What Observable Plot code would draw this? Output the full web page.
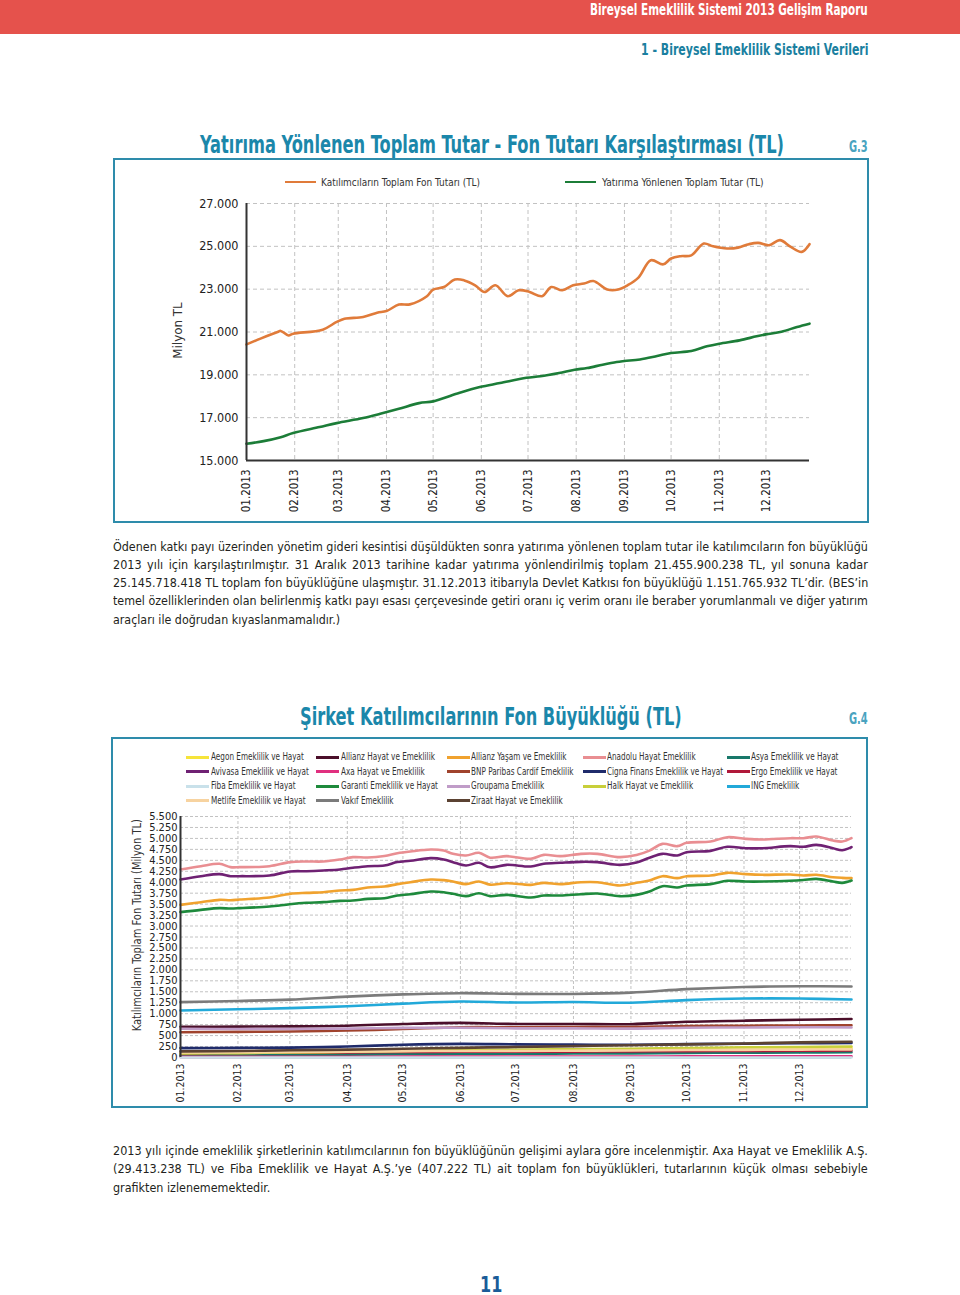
<!DOCTYPE html>
<html><head><meta charset="utf-8">
<script src="https://cdn.jsdelivr.net/npm/d3@7"></script>
<script src="https://cdn.jsdelivr.net/npm/@observablehq/plot@0.6"></script>
<style>
body{margin:0;background:#fff;}
#page{position:relative;width:960px;height:1295px;overflow:hidden;background:#fff;}
.t{position:absolute;white-space:nowrap;display:inline-block;}
.frame{position:absolute;border:2px solid #2e8cab;box-sizing:border-box;}
.sw{position:absolute;height:3px;}
.chart{position:absolute;}
</style></head><body><div id="page"></div>
<script>
// ---------------- DATA ----------------
// Chart G.3 (days since 1 Jan 2013, values in million TL)
const fonDays = [0, 9, 20, 22, 27, 30, 49, 58, 63, 75, 84, 90, 98, 105, 116, 120, 127, 134, 140, 147, 153, 160, 168, 175, 182, 190, 196, 203, 210, 217, 223, 232, 239, 245, 252, 260, 268, 273, 279, 286, 294, 300, 309, 316, 323, 329, 336, 343, 350, 357, 362];
const fonValues = [20420, 20690, 21000, 21050, 20840, 20920, 21110, 21470, 21620, 21700, 21900, 21980, 22280, 22290, 22670, 22980, 23100, 23450, 23410, 23180, 22870, 23180, 22670, 22950, 22870, 22670, 23100, 22950, 23180, 23260, 23380, 22980, 22980, 23180, 23540, 24350, 24160, 24430, 24540, 24580, 25130, 25000, 24900, 24940, 25100, 25160, 25050, 25290, 24970, 24740, 25100];
const yatDays = [0, 11, 22, 30, 47, 58, 75, 86, 98, 111, 120, 135, 150, 163, 180, 189, 201, 211, 219, 229, 238, 243, 253, 264, 273, 286, 296, 304, 317, 328, 334, 344, 354, 362];
const yatValues = [15780, 15905, 16090, 16280, 16560, 16745, 16980, 17180, 17415, 17680, 17760, 18115, 18430, 18615, 18860, 18930, 19085, 19240, 19315, 19475, 19600, 19645, 19720, 19880, 20020, 20110, 20330, 20455, 20610, 20800, 20890, 21015, 21235, 21390];
const series1Names = ["Katılımcıların Toplam Fon Tutarı (TL)", "Yatırıma Yönlenen Toplam Tutar (TL)"];
const series1Colors = ["#e07b3a", "#1c7d38"];

// Chart G.4
const companies = ["Aegon Emeklilik ve Hayat","Allianz Hayat ve Emeklilik","Allianz Yaşam ve Emeklilik","Anadolu Hayat Emeklilik","Asya Emeklilik ve Hayat",
 "Avivasa Emeklilik ve Hayat","Axa Hayat ve Emeklilik","BNP Paribas Cardif Emeklilik","Cigna Finans Emeklilik ve Hayat","Ergo Emeklilik ve Hayat",
 "Fiba Emeklilik ve Hayat","Garanti Emeklilik ve Hayat","Groupama Emeklilik","Halk Hayat ve Emeklilik","ING Emeklilik",
 "Metlife Emeklilik ve Hayat","Vakıf Emeklilik","Ziraat Hayat ve Emeklilik"];
const companyColors = ["#f6e43a","#4b0f2a","#f0a22e","#e98e92","#18786a",
 "#6f2173","#e0307f","#a0432d","#1f2b6b","#b0183a",
 "#c9e1ea","#1e8a3c","#c09cc8","#c8cf3a","#22a9d9",
 "#f7d3a0","#7b7b7b","#5b4232"];
const detailDays = [0, 11, 21, 27, 32, 48, 59, 68, 77, 86, 93, 101, 110, 117, 124, 135, 142, 147, 154, 161, 167, 176, 189, 196, 205, 216, 225, 237, 246, 253, 260, 268, 273, 286, 295, 305, 314, 329, 336, 343, 352, 357, 362];
const anadolu = [4290, 4366, 4420, 4344, 4344, 4366, 4458, 4473, 4473, 4519, 4572, 4565, 4600, 4660, 4700, 4747, 4724, 4648, 4610, 4671, 4560, 4595, 4534, 4625, 4595, 4648, 4648, 4572, 4620, 4720, 4876, 4823, 4899, 4929, 5028, 4990, 4975, 5005, 5005, 5044, 4952, 4929, 5005];
const avivasa = [4062, 4138, 4184, 4138, 4138, 4153, 4245, 4252, 4268, 4290, 4330, 4366, 4380, 4460, 4490, 4549, 4519, 4458, 4382, 4443, 4340, 4397, 4359, 4420, 4443, 4465, 4458, 4397, 4450, 4560, 4648, 4610, 4686, 4716, 4808, 4777, 4777, 4823, 4808, 4853, 4777, 4731, 4800];
const allianzYasam = [3484, 3545, 3598, 3590, 3606, 3651, 3735, 3758, 3773, 3811, 3826, 3880, 3902, 3956, 4001, 4062, 4047, 4016, 3956, 4016, 3945, 3978, 3940, 3986, 3956, 4001, 4001, 3925, 3986, 4039, 4138, 4093, 4138, 4153, 4214, 4184, 4169, 4176, 4153, 4169, 4115, 4100, 4093];
const garanti = [3317, 3370, 3408, 3400, 3408, 3446, 3499, 3530, 3545, 3575, 3583, 3621, 3636, 3697, 3727, 3788, 3773, 3735, 3682, 3750, 3682, 3712, 3651, 3697, 3697, 3727, 3743, 3682, 3712, 3788, 3910, 3880, 3925, 3956, 4032, 4016, 4016, 4032, 4050, 4077, 4016, 3986, 4039];
const monthDays = [0, 31, 59, 90, 120, 151, 181, 212, 243, 273, 304, 334, 362];
const aegon = [75, 80, 85, 95, 105, 115, 120, 130, 140, 155, 170, 185, 210];
const allianzHayat = [700, 705, 710, 725, 765, 790, 765, 765, 760, 815, 840, 860, 880];
const asya = [45, 50, 55, 65, 75, 80, 85, 90, 95, 105, 110, 115, 120];
const axa = [14, 15, 16, 18, 19, 20, 21, 22, 23, 25, 26, 28, 29];
const bnp = [577, 585, 595, 615, 650, 690, 690, 695, 695, 715, 725, 730, 737];
const cigna = [215, 220, 225, 250, 290, 310, 300, 295, 290, 305, 315, 325, 330];
const ergo = [100, 105, 110, 115, 125, 130, 130, 135, 140, 145, 150, 155, 160];
const fiba = [0.3, 0.3, 0.3, 0.3, 0.3, 0.3, 0.4, 0.4, 0.4, 0.4, 0.4, 0.4, 0.4];
const groupama = [655, 650, 650, 660, 675, 680, 665, 665, 660, 680, 685, 690, 685];
const halk = [90, 100, 115, 130, 150, 165, 175, 190, 200, 215, 230, 240, 250];
const ing = [1073, 1100, 1126, 1170, 1230, 1278, 1255, 1265, 1250, 1310, 1345, 1345, 1324];
const metlife = [115, 120, 125, 135, 145, 150, 150, 155, 160, 170, 175, 180, 185];
const vakif = [1263, 1290, 1320, 1390, 1440, 1468, 1453, 1450, 1480, 1560, 1610, 1625, 1620];
const ziraat = [140, 150, 165, 180, 200, 220, 240, 260, 280, 300, 320, 345, 360];
const companyValues = [aegon, allianzHayat, allianzYasam, anadolu, asya, avivasa, axa, bnp, cigna, ergo, fiba, garanti, groupama, halk, ing, metlife, vakif, ziraat];
const companyDays = companyValues.map(v => v.length === detailDays.length ? detailDays : monthDays);

const yTicks1 = [15000, 17000, 19000, 21000, 23000, 25000, 27000];
const yTicks2 = d3.range(0, 5501, 250);

const para1 = [
 "Ödenen katkı payı üzerinden yönetim gideri kesintisi düşüldükten sonra yatırıma yönlenen toplam tutar ile katılımcıların fon büyüklüğü",
 "2013 yılı için karşılaştırılmıştır. 31 Aralık 2013 tarihine kadar yatırıma yönlendirilmiş toplam 21.455.900.238 TL, yıl sonuna kadar",
 "25.145.718.418 TL toplam fon büyüklüğüne ulaşmıştır. 31.12.2013 itibarıyla Devlet Katkısı fon büyüklüğü 1.151.765.932 TL’dir. (BES’in",
 "temel özelliklerinden olan belirlenmiş katkı payı esası çerçevesinde getiri oranı iç verim oranı ile beraber yorumlanmalı ve diğer yatırım",
 "araçları ile doğrudan kıyaslanmamalıdır.)"];
const para2 = [
 "2013 yılı içinde emeklilik şirketlerinin katılımcılarının fon büyüklüğünün gelişimi aylara göre incelenmiştir. Axa Hayat ve Emeklilik A.Ş.",
 "(29.413.238 TL) ve Fiba Emeklilik ve Hayat A.Ş.’ye (407.222 TL) ait toplam fon büyüklükleri, tutarlarının küçük olması sebebiyle",
 "grafikten izlenememektedir."];

// ---------------- LAYOUT HELPERS ----------------
const page = document.getElementById("page");
const BODY = "'DejaVu Sans Condensed','DejaVu Sans',sans-serif";
const DISPLAY = "'Liberation Sans Narrow','DejaVu Sans Condensed',sans-serif";
function box(cls, l, t, w, h, bg) {
  const d = document.createElement("div"); d.className = cls;
  Object.assign(d.style, {left: l + "px", top: t + "px", width: w + "px", height: h + "px"});
  if (bg) d.style.background = bg;
  page.appendChild(d); return d;
}
function addText(str, o) {
  const el = document.createElement("div");
  el.className = "t"; el.textContent = str;
  Object.assign(el.style, {fontFamily: o.family || BODY, fontSize: o.size + "px", lineHeight: o.size + "px",
    fontWeight: o.weight || "normal", color: o.color || "#231f20"});
  page.appendChild(el);
  const w = el.offsetWidth, h = el.offsetHeight;
  let s = o.scale != null ? o.scale : (o.w ? o.w / w : 1);
  if (o.justify) {
    const n = (str.match(/ /g) || []).length;
    if (w <= o.w) { s = 1; el.style.wordSpacing = ((o.w - w) / n) + "px"; }
    else s = o.w / w;
  }
  const top = o.cy - h / 2;
  let left, origin;
  if (o.rot != null || o.anchor === "middle") { left = o.cx - w / 2; origin = "50% 50%"; }
  else if (o.anchor === "end") { left = o.x - w; origin = "100% 50%"; }
  else { left = o.x; origin = "0 50%"; }
  el.style.left = left + "px"; el.style.top = top + "px";
  el.style.transformOrigin = origin;
  el.style.transform = (o.rot != null ? `rotate(${o.rot}deg) ` : "") + `scaleX(${s})`;
  return {el, w, s};
}

// ---------------- HEADER ----------------
box("", 0, 0, 960, 34, "#e5524c").style.position = "absolute";
addText("Bireysel Emeklilik Sistemi 2013 Gelişim Raporu", {x: 868, anchor: "end", cy: 10, size: 15, weight: "bold", color: "#fff", family: DISPLAY, w: 278});
addText("1 - Bireysel Emeklilik Sistemi Verileri", {x: 868, anchor: "end", cy: 50, size: 15, weight: "bold", color: "#1a7fa0", family: DISPLAY, w: 227});

// ---------------- CHART G.3 ----------------
addText("Yatırıma Yönlenen Toplam Tutar - Fon Tutarı Karşılaştırması (TL)", {x: 200, cy: 144, size: 25, weight: "bold", color: "#1b87aa", family: DISPLAY, w: 584});
addText("G.3", {x: 849, cy: 147, size: 15, weight: "bold", color: "#4aa3bf", family: DISPLAY, w: 19});
box("frame", 113, 158, 756, 365);

const start = new Date(Date.UTC(2013, 0, 1));
const day = d => d3.utcDay.offset(start, d);
const end = day(362);
const months = d3.utcMonth.range(start, day(340));
const fmt = d3.formatLocale({decimal: ",", thousands: ".", grouping: [3], currency: ["", " TL"]}).format(",");

// legend G.3
const leg1 = [{sx: 285, tx: 321, w: 159}, {sx: 565, tx: 602, w: 162}];
series1Names.forEach((n, i) => {
  box("sw", leg1[i].sx, 181, 31, 2, series1Colors[i]);
  addText(n, {x: leg1[i].tx, cy: 182, size: 11, color: "#333", w: leg1[i].w});
});
addText("Milyon TL", {cx: 177, cy: 330, rot: -90, size: 13, color: "#333", w: 56});

const fonData = fonDays.map((d, i) => ({date: day(d), v: fonValues[i], s: series1Names[0]}));
const yatData = yatDays.map((d, i) => ({date: day(d), v: yatValues[i], s: series1Names[1]}));
const grid = {stroke: "#c2c2c2", strokeDasharray: "4,3", strokeWidth: 1, strokeOpacity: 1};

const c1 = Plot.plot({
  width: 750, height: 330, marginLeft: 133, marginRight: 54, marginTop: 13, marginBottom: 60,
  style: {fontFamily: BODY, fontSize: "12.5px", color: "#222", background: "transparent", overflow: "visible"},
  x: {type: "utc", domain: [start, end], ticks: months, tickFormat: d3.utcFormat("%m.%Y"), tickRotate: -90, tickSize: 0, tickPadding: 9, label: null},
  y: {domain: [15000, 27000], ticks: yTicks1, tickFormat: fmt, tickSize: 0, tickPadding: 8, label: null},
  marks: [
    Plot.ruleX(months.slice(1), grid),
    Plot.ruleY(yTicks1.slice(1), grid),
    Plot.line(fonData, {x: "date", y: "v", stroke: series1Colors[0], strokeWidth: 2.6, curve: "catmull-rom"}),
    Plot.line(yatData, {x: "date", y: "v", stroke: series1Colors[1], strokeWidth: 2.6, curve: "catmull-rom"}),
    Plot.ruleX([start], {stroke: "#333", strokeWidth: 2}),
    Plot.ruleY([15000], {stroke: "#333", strokeWidth: 2})
  ]
});
c1.classList.add("chart"); Object.assign(c1.style, {left: "113px", top: "190px"});
page.appendChild(c1);
d3.select(c1).selectAll('[aria-label^="x-axis"] text').attr("font-size", 11.5);

// paragraph 1
para1.forEach((line, i) => {
  const last = i === para1.length - 1;
  addText(line, {x: 113, cy: 547 + i * 18.3, size: 12.5, color: "#231f20", w: last ? 227 : 755, justify: !last});
});

// ---------------- CHART G.4 ----------------
addText("Şirket Katılımcılarının Fon Büyüklüğü (TL)", {x: 300, cy: 716, size: 25, weight: "bold", color: "#1b87aa", family: DISPLAY, w: 382});
addText("G.4", {x: 849, cy: 719, size: 15, weight: "bold", color: "#4aa3bf", family: DISPLAY, w: 19});
box("frame", 111, 737, 757, 371);

const colSw = [186, 316, 447, 583, 727], colTx = [211, 341, 471, 607, 751], rowY = [757, 771.5, 786, 800.5];
let legScale = null;
companies.forEach((n, i) => {
  const c = i % 5, r = Math.floor(i / 5);
  box("sw", colSw[c], rowY[r] - 1.5, 23, 3, companyColors[i]);
  const res = addText(n, {x: colTx[c], cy: rowY[r], size: 10, color: "#333", w: i === 0 ? 93 : null, scale: legScale});
  if (i === 0) legScale = res.s;
});
addText("Katılımcıların Toplam Fon Tutarı (Milyon TL)", {cx: 137, cy: 925, rot: -90, size: 12.5, color: "#333", w: 212});

const data2 = companies.flatMap((n, i) => companyDays[i].map((d, j) => ({date: day(d), v: companyValues[i][j], s: n})));

const c2 = Plot.plot({
  width: 750, height: 300, marginLeft: 67, marginRight: 12, marginTop: 10, marginBottom: 49,
  style: {fontFamily: BODY, fontSize: "11px", color: "#222", background: "transparent", overflow: "visible"},
  x: {type: "utc", domain: [start, end], ticks: months, tickFormat: d3.utcFormat("%m.%Y"), tickRotate: -90, tickSize: 0, tickPadding: 6, label: null},
  y: {domain: [0, 5500], ticks: yTicks2, tickFormat: fmt, tickSize: 0, tickPadding: 3, label: null},
  color: {domain: companies, range: companyColors},
  marks: [
    Plot.ruleX(months.slice(1), {...grid, strokeDasharray: "3,2"}),
    Plot.ruleY(yTicks2.slice(1), {...grid, strokeDasharray: "3,2"}),
    Plot.ruleY([0], {stroke: "#333", strokeWidth: 1.5}),
    Plot.line(data2, {x: "date", y: "v", z: "s", stroke: "s", strokeWidth: 2.6, curve: "catmull-rom"}),
    Plot.ruleX([start], {stroke: "#333", strokeWidth: 2})
  ]
});
c2.classList.add("chart"); Object.assign(c2.style, {left: "113px", top: "806px"});
page.appendChild(c2);
d3.select(c2).selectAll('[aria-label^="x-axis"] text').attr("font-size", 10.5);

// paragraph 2
para2.forEach((line, i) => {
  const last = i === para2.length - 1;
  addText(line, {x: 113, cy: 1151 + i * 18.5, size: 12.5, color: "#231f20", w: last ? 157 : 755, justify: !last});
});

addText("11", {cx: 491, anchor: "middle", cy: 1285, size: 21, weight: "bold", color: "#1a5c98", family: DISPLAY, w: 22});
</script></body></html>
